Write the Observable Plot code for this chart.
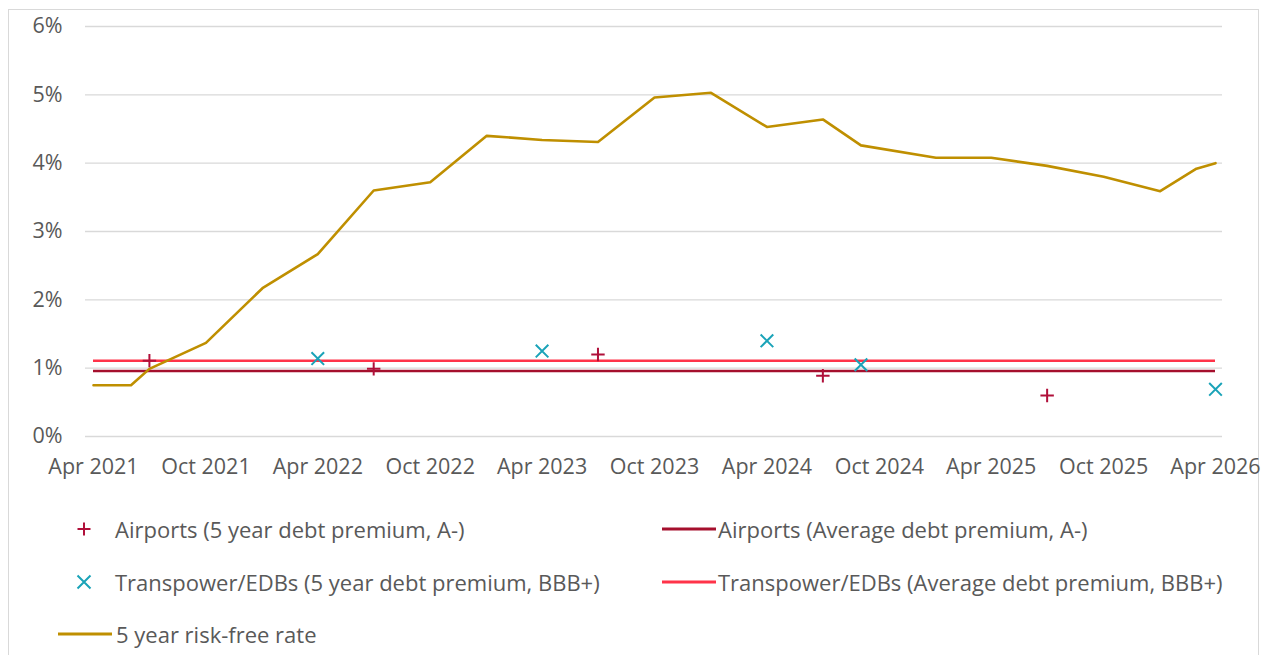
<!DOCTYPE html>
<html>
<head>
<meta charset="utf-8">
<script src="https://cdn.jsdelivr.net/npm/d3@7"></script>
<script src="https://cdn.jsdelivr.net/npm/@observablehq/plot@0.6"></script>
<style>
  body { margin: 0; background: #fff; font-family: "Open Sans", "Liberation Sans", Arial, sans-serif; }
  #wrap { position: relative; width: 1271px; height: 655px; overflow: hidden; }
  #frame { position: absolute; left: 8px; top: 9px; width: 1251px; height: 700px; border: 1px solid #d9d9d9; box-sizing: border-box; }
  #chart { position: absolute; left: 0; top: 0; }
  .leg { position: absolute; font-size: 22px; color: #595959; white-space: nowrap; display: flex; align-items: center; }
  .leg svg { display: block; }
</style>
</head>
<body>
<div id="wrap">
  <div id="frame"></div>
  <div id="chart"></div>
  <div id="legend"></div>
</div>
<script>
// ---- data ----
const rfDates = ["2021-04-01","2021-06-01","2021-07-01","2021-10-01","2022-01-01","2022-04-01","2022-07-01","2022-10-01","2023-01-01","2023-04-01","2023-07-01","2023-10-01","2024-01-01","2024-04-01","2024-07-01","2024-09-01","2025-01-01","2025-04-01","2025-07-01","2025-10-01","2026-01-01","2026-03-01","2026-04-01"];
const rfValues = [0.75,0.75,0.99,1.37,2.17,2.67,3.60,3.72,4.40,4.34,4.31,4.96,5.03,4.53,4.64,4.26,4.08,4.08,3.96,3.80,3.59,3.92,4.00];

const airDates = ["2021-07-01","2022-07-01","2023-07-01","2024-07-01","2025-07-01"];
const airValues = [1.11,0.99,1.20,0.89,0.60];

const tpDates = ["2022-04-01","2023-04-01","2024-04-01","2024-09-01","2026-04-01"];
const tpValues = [1.14,1.25,1.40,1.05,0.69];

const avgSpan = ["2021-04-01","2026-04-01"];
const airAvg = 0.96;
const tpAvg = 1.11;

const yTicks = [0,1,2,3,4,5,6];
const xTickLabels = ["Apr 2021","Oct 2021","Apr 2022","Oct 2022","Apr 2023","Oct 2023","Apr 2024","Oct 2024","Apr 2025","Oct 2025","Apr 2026"];

const seriesNames = [
  "Airports (5 year debt premium, A-)",
  "Airports (Average debt premium, A-)",
  "Transpower/EDBs (5 year debt premium, BBB+)",
  "Transpower/EDBs (Average debt premium, BBB+)",
  "5 year risk-free rate"
];

// ---- colours ----
const C = { gold: "#BF8F00", air: "#B0103A", airAvg: "#A50F2D", tp: "#1AA3B8", tpAvg: "#FF3349", grid: "#d9d9d9", text: "#595959" };

const parse = d3.utcParse("%Y-%m-%d");
const rf = rfDates.map((d, i) => ({ date: parse(d), v: rfValues[i] }));
const air = airDates.map((d, i) => ({ date: parse(d), v: airValues[i] }));
const tp = tpDates.map((d, i) => ({ date: parse(d), v: tpValues[i] }));
const span0 = parse(avgSpan[0]), span1 = parse(avgSpan[1]);
const monthFmt = d3.utcParse("%b %Y");
const xTicks = xTickLabels.map(s => monthFmt(s));

const chart = Plot.plot({
  width: 1271,
  height: 490,
  marginTop: 26,
  marginBottom: 54,
  marginLeft: 85,
  marginRight: 49,
  style: { fontFamily: "'Open Sans', 'Liberation Sans', Arial, sans-serif", fontSize: "21.5px", color: C.text, background: "transparent" },
  x: { type: "utc", domain: [span0, span1], range: [93, 1215] },
  y: { domain: [0, 6] },
  marks: [
    Plot.ruleY(yTicks, { stroke: C.grid, strokeWidth: 1.3 }),
    Plot.axisY({ ticks: yTicks, tickSize: 0, tickPadding: 23, tickFormat: d => d + "%", label: null, fill: C.text }),
    Plot.axisX({ ticks: xTicks, tickSize: 0, tickPadding: 22, tickFormat: d3.utcFormat("%b %Y"), label: null, fill: C.text }),
    Plot.ruleY([tpAvg], { x1: span0, x2: span1, stroke: C.tpAvg, strokeWidth: 2.5 }),
    Plot.ruleY([airAvg], { x1: span0, x2: span1, stroke: C.airAvg, strokeWidth: 2.5 }),
    Plot.line(rf, { x: "date", y: "v", stroke: C.gold, strokeWidth: 2.6 }),
    Plot.dot(air, { x: "date", y: "v", symbol: "plus", r: 4.4, stroke: C.air, strokeWidth: 2 }),
    Plot.dot(tp, { x: "date", y: "v", symbol: "times", r: 5.8, stroke: C.tp, strokeWidth: 2 })
  ]
});
document.getElementById("chart").appendChild(chart);

// ---- legend (HTML) ----
function sym(kind, color) {
  const w = 30, h = 20, s = 6.5;
  let inner = "";
  if (kind === "plus") inner = `<path d="M${w/2-s},${h/2}H${w/2+s}M${w/2},${h/2-s}V${h/2+s}" stroke="${color}" stroke-width="2" fill="none"/>`;
  else inner = `<path d="M${w/2-s},${h/2-s}L${w/2+s},${h/2+s}M${w/2-s},${h/2+s}L${w/2+s},${h/2-s}" stroke="${color}" stroke-width="2" fill="none"/>`;
  return `<svg width="${w}" height="${h}">${inner}</svg>`;
}
function lineSw(color) {
  return `<svg width="54" height="20"><line x1="0" x2="54" y1="10" y2="10" stroke="${color}" stroke-width="3"/></svg>`;
}
const items = [
  { x: 69, y: 529, sw: sym("plus", C.air), label: seriesNames[0], gap: 16 },
  { x: 662, y: 529, sw: lineSw(C.airAvg), label: seriesNames[1], gap: 2 },
  { x: 69, y: 582, sw: sym("times", C.tp), label: seriesNames[2], gap: 16 },
  { x: 662, y: 582, sw: lineSw(C.tpAvg), label: seriesNames[3], gap: 2 },
  { x: 58, y: 634, sw: lineSw(C.gold), label: seriesNames[4], gap: 4 }
];
const leg = document.getElementById("legend");
items.forEach(it => {
  const d = document.createElement("div");
  d.className = "leg";
  d.style.left = it.x + "px";
  d.style.top = (it.y - 15) + "px";
  d.style.height = "30px";
  d.innerHTML = it.sw + `<span style="margin-left:${it.gap}px">${it.label}</span>`;
  leg.appendChild(d);
});
</script>
</body>
</html>
